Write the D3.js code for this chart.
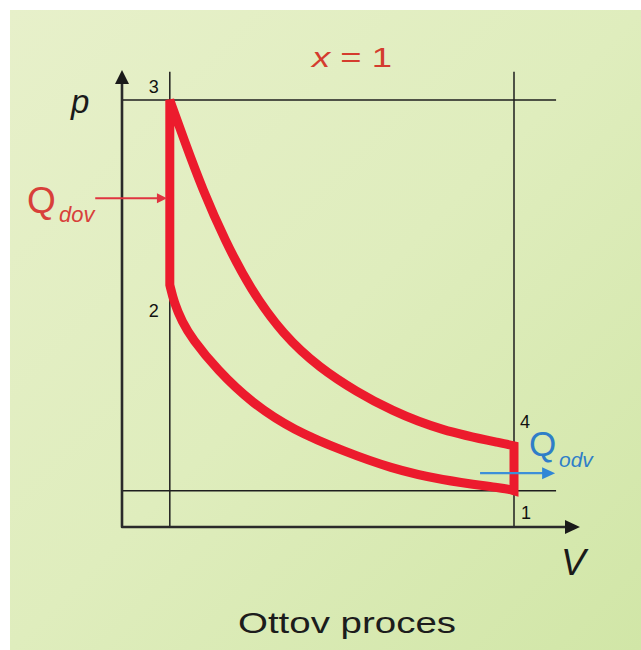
<!DOCTYPE html>
<html><head><meta charset="utf-8">
<script src="https://cdn.jsdelivr.net/npm/d3@7"></script>
<style>body{margin:0;background:#fff}svg{display:block}</style>
</head><body><svg id="c" width="641" height="650"></svg>
<script>
// ---- data (V, p in arbitrary units) ----
const stateNames = ["1", "2", "3", "4"];
const stateV = [8.2, 1.0, 1.0, 8.2];
const stateP = [0.85, 5.67, 10.0, 1.90];
// adiabatic expansion 3 -> 4
const expansionV = [1.0, 1.30, 1.69, 2.15, 2.68, 3.37, 4.14, 4.92, 5.61, 6.65, 8.05, 8.2];
const expansionP = [10.0, 9.06, 7.89, 6.72, 5.58, 4.50, 3.72, 3.16, 2.74, 2.26, 1.94, 1.90];
// adiabatic compression 1 -> 2
const compressionV = [8.2, 8.05, 6.65, 5.61, 4.67, 3.58, 2.72, 1.99, 1.46, 1.26, 1.09, 1.0];
const compressionP = [0.85, 0.90, 1.10, 1.38, 1.76, 2.27, 2.90, 3.68, 4.42, 4.80, 5.25, 5.67];
const axisTitles = ["V", "p"];
const titleParts = ["x", " = 1"];
const caption = "Ottov proces";
const heatIn = ["Q", "dov"];
const heatOut = ["Q", "odv"];

// ---- drawing ----
const svg = d3.select("#c");
const defs = svg.append("defs");
const g = defs.append("linearGradient").attr("id", "bg")
  .attr("x1", "0").attr("y1", "0").attr("x2", "1").attr("y2", "1");
g.append("stop").attr("offset", "0").attr("stop-color", "#e7f0ca");
g.append("stop").attr("offset", "0.5").attr("stop-color", "#dfedbd");
g.append("stop").attr("offset", "1").attr("stop-color", "#d1e6a7");

svg.append("rect").attr("width", 641).attr("height", 650).attr("fill", "#fff");
svg.append("rect").attr("x", 10).attr("y", 10).attr("width", 631).attr("height", 640).attr("fill", "url(#bg)");

const x = d3.scaleLinear().domain([0, 8.2]).range([122, 514]);
const y = d3.scaleLinear().domain([0, 10]).range([527, 100]);

const vMax = 9.58, pMax = 10.7;   // arrow tips
const vRef = 9.08, pRef = 10.66;  // reference-line extents

// reference lines (isochores and isobars)
const refG = svg.append("g").attr("stroke", "#1e1e1e").attr("stroke-width", 1.5);
[stateV[1], stateV[0]].forEach(v => {
  refG.append("line").attr("x1", x(v)).attr("x2", x(v)).attr("y1", y(0)).attr("y2", y(pRef));
});
[stateP[2], stateP[0]].forEach(p => {
  refG.append("line").attr("x1", x(0)).attr("x2", x(vRef)).attr("y1", y(p)).attr("y2", y(p));
});

// axes
const axG = svg.append("g");
axG.append("path")
  .attr("d", `M${x(0)},${y(pMax) + 12}L${x(0)},${y(0)}L${x(vMax) - 12},${y(0)}`)
  .attr("fill", "none").attr("stroke", "#2a2a2a").attr("stroke-width", 2.6)
  .attr("stroke-linejoin", "round");
axG.append("path")
  .attr("d", `M${x(0)},${y(pMax)}L${x(0) + 7},${y(pMax) + 14}L${x(0) - 7},${y(pMax) + 14}Z`)
  .attr("fill", "#1a1a1a");
axG.append("path")
  .attr("d", `M${x(vMax)},${y(0)}L${x(vMax) - 15},${y(0) - 7}L${x(vMax) - 15},${y(0) + 7}Z`)
  .attr("fill", "#1a1a1a");

// cycle
const line = d3.line().x(d => x(d[0])).y(d => y(d[1])).curve(d3.curveBasis);
const expPts = expansionV.map((v, i) => [v, expansionP[i]]);
const compPts = compressionV.map((v, i) => [v, compressionP[i]]);
const expD = line(expPts);            // 3 -> 4
const compD = line(compPts);          // 1 -> 2
const loopD = expD + `L${x(stateV[0])},${y(stateP[0])}` + compD.replace(/^M/, "L") + "Z";
svg.append("path").attr("d", loopD)
  .attr("fill", "none").attr("stroke", "#ec1b2d").attr("stroke-width", 9)
  .attr("stroke-linejoin", "miter").attr("stroke-miterlimit", 3);

// state numbers
const numOff = [[12, 28], [-16, 32], [-16, -7], [11, -18]];
svg.append("g").selectAll("text").data(stateNames).join("text")
  .attr("x", (d, i) => x(stateV[i]) + numOff[i][0])
  .attr("y", (d, i) => y(stateP[i]) + numOff[i][1])
  .attr("text-anchor", "middle")
  .attr("font-family", "Liberation Sans, Arial, sans-serif")
  .attr("font-size", 18).attr("fill", "#111").text(d => d);

// axis titles
svg.append("text").attr("x", x(vMax) - 19).attr("y", 575)
  .attr("font-family", "Liberation Sans, Arial, sans-serif").attr("font-style", "italic")
  .attr("font-size", 37).attr("fill", "#1a1a1a").text(axisTitles[0]);
svg.append("text").attr("x", 71).attr("y", 113)
  .attr("font-family", "Liberation Sans, Arial, sans-serif").attr("font-style", "italic")
  .attr("font-size", 33).attr("fill", "#1a1a1a").text(axisTitles[1]);

// title
const t = svg.append("text").attr("x", 312).attr("y", 67)
  .attr("font-family", "Liberation Sans, Arial, sans-serif")
  .attr("font-size", 28).attr("fill", "#d43c2e")
  .attr("textLength", 80).attr("lengthAdjust", "spacingAndGlyphs");
t.append("tspan").attr("font-style", "italic").text(titleParts[0]);
t.append("tspan").text(titleParts[1]);

// caption
svg.append("text").attr("x", 238).attr("y", 633)
  .attr("font-family", "Liberation Sans, Arial, sans-serif")
  .attr("font-size", 30).attr("fill", "#1c1c1c")
  .attr("textLength", 218).attr("lengthAdjust", "spacingAndGlyphs").text(caption);

// heat in arrow
const inP = 7.7, inV0 = -0.56, inV1 = 0.94;
svg.append("line").attr("x1", x(inV0)).attr("x2", x(inV1) - 8).attr("y1", y(inP)).attr("y2", y(inP))
  .attr("stroke", "#e03440").attr("stroke-width", 2);
svg.append("path")
  .attr("d", `M${x(inV1)},${y(inP)}L${x(inV1) - 10},${y(inP) - 5}L${x(inV1) - 10},${y(inP) + 5}Z`)
  .attr("fill", "#e03440");
svg.append("text").attr("x", 27).attr("y", 213)
  .attr("font-family", "Liberation Sans, Arial, sans-serif")
  .attr("font-size", 37).attr("fill", "#d8403a").text(heatIn[0]);
svg.append("text").attr("x", 59).attr("y", 222)
  .attr("font-family", "Liberation Sans, Arial, sans-serif").attr("font-style", "italic")
  .attr("font-size", 22).attr("fill", "#d8403a").text(heatIn[1]);

// heat out arrow
const outP = 1.26, outV0 = 7.49, outV1 = 9.06;
svg.append("line").attr("x1", x(outV0)).attr("x2", x(outV1) - 8).attr("y1", y(outP)).attr("y2", y(outP))
  .attr("stroke", "#3d8fd8").attr("stroke-width", 2.2);
svg.append("path")
  .attr("d", `M${x(outV1)},${y(outP)}L${x(outV1) - 13},${y(outP) - 6}L${x(outV1) - 13},${y(outP) + 6}Z`)
  .attr("fill", "#2f86d6");
svg.append("text").attr("x", 529).attr("y", 456)
  .attr("font-family", "Liberation Sans, Arial, sans-serif")
  .attr("font-size", 35).attr("fill", "#2f7ec8").text(heatOut[0]);
svg.append("text").attr("x", 559).attr("y", 467)
  .attr("font-family", "Liberation Sans, Arial, sans-serif").attr("font-style", "italic")
  .attr("font-size", 21).attr("fill", "#2f7ec8").text(heatOut[1]);
</script></body></html>
